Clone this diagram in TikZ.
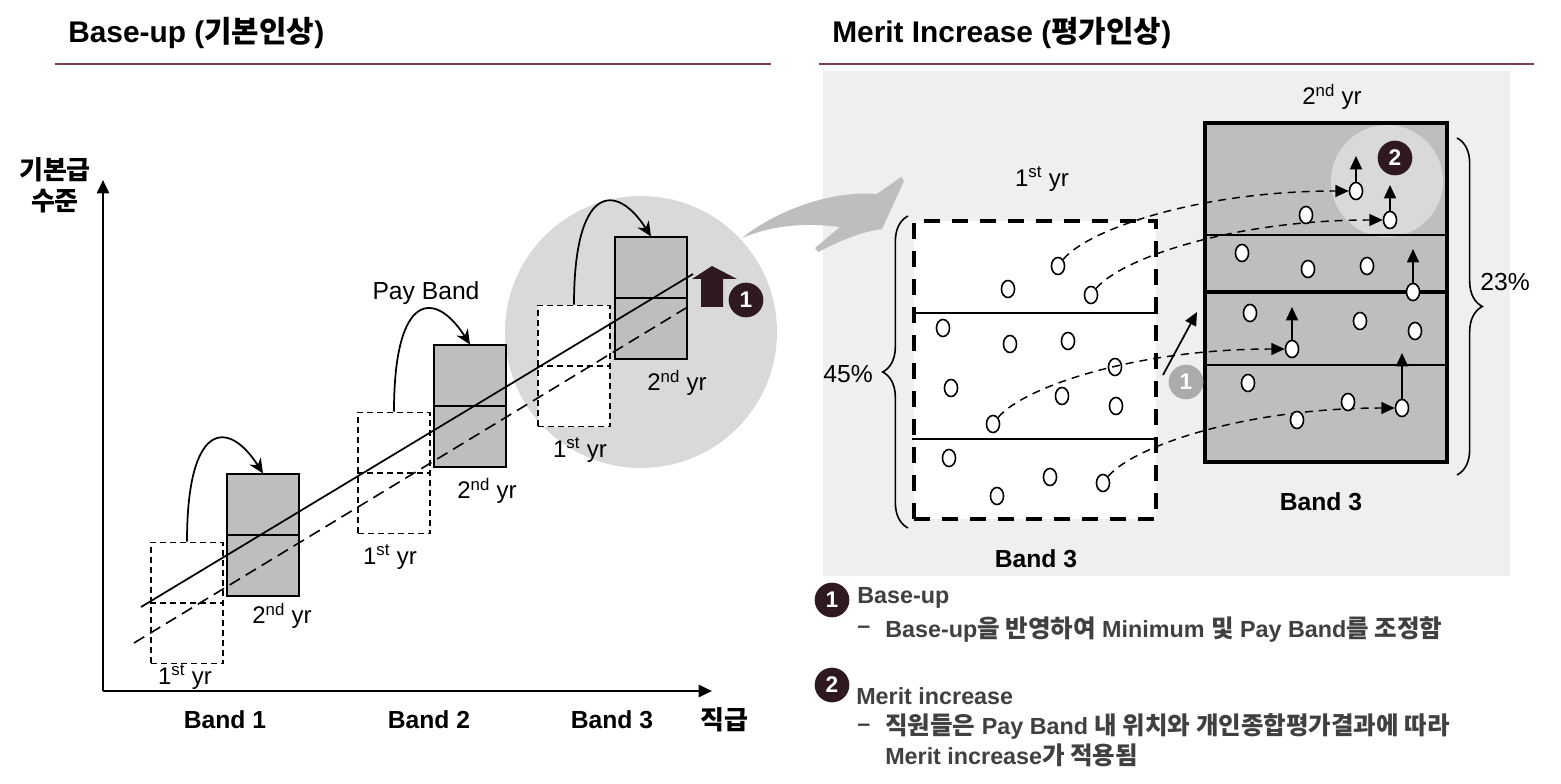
\documentclass[tikz,border=0pt]{standalone}
\usepackage{fontspec}
\setmainfont{Liberation Sans}
\newfontfamily\krfont{Noto Sans CJK KR}
\newfontfamily\krnote[Scale=1.05]{Noto Sans CJK KR}
\newcommand{\kr}[1]{{\krfont #1}}
\newcommand{\krn}[1]{{\krnote #1}}
\usetikzlibrary{arrows.meta,positioning,shapes.geometric,decorations.pathreplacing}
\definecolor{RuleMain}{HTML}{7B3F4F}
\definecolor{PanelFill}{HTML}{EFEFEF}
\definecolor{BandFill}{HTML}{BEBEBE}
\definecolor{SpotFill}{HTML}{D9D9D9}
\definecolor{BadgeFill}{HTML}{2E1A1E}
\definecolor{BadgeSoft}{HTML}{ABABAB}
\definecolor{NoteText}{HTML}{404040}
\tikzset{
  ttl/.style={font=\fontsize{22.4}{26}\selectfont\bfseries, anchor=west, inner sep=0pt},
  rulel/.style={line width=1pt, draw=RuleMain},
  yrold/.style={rectangle, draw, dashed, dash pattern=on 4.5pt off 3pt, fill=white, line width=1.2pt,
                minimum width=54pt, minimum height=91pt, inner sep=0pt},
  yrnew/.style={rectangle, draw, fill=BandFill, line width=1.3pt,
                minimum width=54pt, minimum height=91pt, inner sep=0pt},
  yrl/.style={font=\fontsize{18}{22}\selectfont, inner sep=0pt},
  pct/.style={font=\fontsize{18.5}{22}\selectfont, inner sep=0pt},
  bnd/.style={font=\fontsize{18.5}{22}\selectfont\bfseries, inner sep=0pt},
  hop/.style={-{Stealth[length=11pt,width=10pt]}, line width=1.3pt},
  badge/.style={circle, fill=BadgeFill, text=white, inner sep=0pt, minimum size=26pt,
                font=\fontsize{17}{20}\selectfont\bfseries},
  oval/.style={ellipse, draw, fill=white, line width=1.2pt, inner sep=0pt,
               minimum width=9.8pt, minimum height=12.8pt},
  trk/.style={-{Triangle[length=10pt,width=9pt]}, dashed, dash pattern=on 6pt off 4.5pt, line width=1.1pt},
  lift/.style={-{Triangle[length=10pt,width=9pt]}, line width=1.3pt},
  brc/.style={decorate, decoration={brace,amplitude=19pt}, line width=1.2pt},
  note/.style={font=\fontsize{17.5}{20}\selectfont\bfseries, text=NoteText, anchor=west, inner sep=0pt},
}

\begin{document}
\begin{tikzpicture}[x=0.75pt,y=-0.75pt]
\useasboundingbox (0,0) rectangle (1561,784);

% ---------------- titles ----------------------------------------------
\node[ttl] (ttlL) at (68,33) {Base-up (\kr{기본인상})};
\node[ttl] (ttlR) at (832,33) {Merit Increase (\kr{평가인상})};
\draw[rulel] (55,64) -- (771,64);
\draw[rulel] (819,64) -- (1534,64);

% ---------------- panel and highlight ----------------------------------
\fill[PanelFill] (823,71) rectangle (1510,576);
\fill[SpotFill] (641,332) circle (136);
\fill[BandFill] (742,238) .. controls (770,215) and (825,190) .. (877,194)
  -- (901,177) -- (904,181) -- (882,229)
  .. controls (860,232) and (840,241) .. (818,252) -- (815,248) -- (840,227)
  .. controls (810,223) and (775,224) .. (742,238) -- cycle;

% ---------------- axes --------------------------------------------------
\coordinate (org) at (103,691);
\coordinate (ytop) at (103,180);
\coordinate (xend) at (712,691);
\draw[-{Triangle[length=10pt,width=9pt]}, line width=2pt] (org) -- (ytop);
\draw[-{Triangle[length=10pt,width=9pt]}, line width=2pt] (org) -- (xend);
\node[bnd, align=center, font=\fontsize{19.5}{23}\selectfont\bfseries\krfont] (ylab) at (55,185) {기본급\\수준};
\node[bnd, font=\fontsize{19.5}{23}\selectfont\bfseries\krfont] (xlab) at (724,720) {직급};
\node[bnd] (bandA) at (225,720) {Band 1};
\node[bnd] (bandB) at (429,720) {Band 2};
\node[bnd] (bandC) at (612,720) {Band 3};

% ---------------- pay bands ---------------------------------------------
\foreach \n/\ox/\oy/\nx/\ny in {A/187/603/263/535,B/394/473/470/406,C/574/366/651/298}{
  \node[yrold] (old\n) at (\ox,\oy) {};
  \node[yrnew] (new\n) at (\nx,\ny) {};
  \draw[dashed, dash pattern=on 4.5pt off 3pt, line width=1.2pt] (old\n.west) -- (old\n.east);
  \draw[line width=1.3pt] (new\n.west) -- (new\n.east);
  \draw[hop] (old\n.north) .. controls +(0,-120) and +(-35,-55) .. (new\n.north);
}
\draw[line width=1.3pt] (141,607) -- (693,274);
\draw[dashed, dash pattern=on 9pt off 5pt, line width=1.2pt] (134,643) -- (686,308);

\node[yrl] (oldlabA) at (185,677) {1\textsuperscript{st} yr};
\node[yrl] (newlabA) at (282,616) {2\textsuperscript{nd} yr};
\node[yrl] (oldlabB) at (390,557) {1\textsuperscript{st} yr};
\node[yrl] (newlabB) at (487,491) {2\textsuperscript{nd} yr};
\node[yrl] (oldlabC) at (580,450) {1\textsuperscript{st} yr};
\node[yrl] (newlabC) at (677,383) {2\textsuperscript{nd} yr};
\node[pct] (payband) at (426,293) {Pay Band};

\fill[BadgeFill] (712,266) -- (737,279) -- (723,279) -- (723,307) -- (701,307) -- (701,279) -- (692,279) -- cycle;
\node[badge] (mkA) at (746,300) {1};

% ---------------- first year box ----------------------------------------
\node[rectangle, draw, dashed, dash pattern=on 12pt off 9pt, line width=2.6pt, fill=white,
  minimum width=181.5pt, minimum height=223.5pt, inner sep=0pt] (yrone) at (1035,370) {};
\draw[line width=1.4pt] (yrone.west |- 0,313) -- (yrone.east |- 0,313);
\draw[line width=1.4pt] (yrone.west |- 0,439) -- (yrone.east |- 0,439);
\foreach \n/\x/\y in {a/1058/266,b/1008/289,c/1091/295,d/943/328,e/1010/344,f/1068/341,g/1115/367,
  h/951/388,i/1062/396,j/1116/406,k/993/424,l/949/458,m/997/496,n/1050/477,o/1103/483}{
  \node[oval] (p\n) at (\x,\y) {};}
\draw[brc] (908,528) -- (908,216);
\node[pct] (pctL) at (848,374) {45\%};
\node[yrl] (yrlabL) at (1042,179) {1\textsuperscript{st} yr};
\node[bnd] (bandL) at (1036,559) {Band 3};

% ---------------- second year box ---------------------------------------
\node[rectangle, draw, fill=BandFill, line width=2.6pt,
  minimum width=181.5pt, minimum height=254pt, inner sep=0pt] (yrtwo) at (1326,292.5) {};
\fill[SpotFill] (1387,181) circle (56);
\draw[line width=1.4pt] (yrtwo.west |- 0,235) -- (yrtwo.east |- 0,235);
\draw[line width=2.8pt] (yrtwo.west |- 0,292) -- (yrtwo.east |- 0,292);
\draw[line width=1.4pt] (yrtwo.west |- 0,365) -- (yrtwo.east |- 0,365);
\foreach \n/\x/\y in {a/1356/191,c/1390/220,g/1292/349,o/1402/408,d/1413/292}{
  \node[oval] (q\n) at (\x,\y) {};}
\foreach \n/\x/\y in {b/1242/253,e/1308/269,f/1367/266,h/1250/313,i/1360/321,j/1415/331,k/1248/383}{
  \node[oval] (q\n) at (\x,\y) {};}
\draw[trk] (pa.north east) .. controls +(25,-30) and +(-150,0) .. (qa.west);
\draw[trk] (pc.north east) .. controls +(25,-30) and +(-150,0) .. (qc.west);
\draw[trk] (pk.north east) .. controls +(25,-30) and +(-150,0) .. (qg.west);
\draw[trk] (po.north east) .. controls +(25,-30) and +(-150,0) .. (qo.west);
\foreach \n/\x/\y in {l/1306/215,m/1297/420,n/1348/402}{
  \node[oval] (q\n) at (\x,\y) {};}

\coordinate (tipa) at (1356,156);
\coordinate (tipc) at (1390,185);
\coordinate (tipd) at (1413,249);
\coordinate (tipg) at (1292,307);
\coordinate (tipo) at (1402,353);
\foreach \n in {a,c,d,g,o}{
  \draw[lift] (q\n.north) -- (tip\n);}

\node[badge] (mkB) at (1395,158) {2};
\node[badge, fill=BadgeSoft] (mkC) at (1186,382) {1};
\coordinate (pushtip) at (1197,312);
\draw[lift] (1163,375) -- (pushtip);
\draw[brc] (1457,138) -- (1457,475);
\node[pct] (pctR) at (1505,282) {23\%};
\node[yrl] (yrlabR) at (1332,97) {2\textsuperscript{nd} yr};
\node[bnd] (bandR) at (1321,502) {Band 3};

% ---------------- notes -------------------------------------------------
\node[badge] (keyA) at (832,600) {1};
\node[badge] (keyB) at (832,685) {2};
\node[note] (nA) at (857,598) {Base-up};
\node[note] (nAdash) at (857,630) {–};
\node[note] (nAtxt) at (885,630) {Base-up\krn{을 반영하여} Minimum \krn{및} Pay Band\krn{를 조정함}};
\node[note] (nB) at (856,696) {Merit increase};
\node[note] (nBdash) at (857,728) {–};
\node[note] (nBtxt) at (885,727) {\krn{직원들은} Pay Band \krn{내 위치와 개인종합평가결과에 따라}};
\node[note] (nBmore) at (885,755) {Merit increase\krn{가 적용됨}};

\end{tikzpicture}
\end{document}
